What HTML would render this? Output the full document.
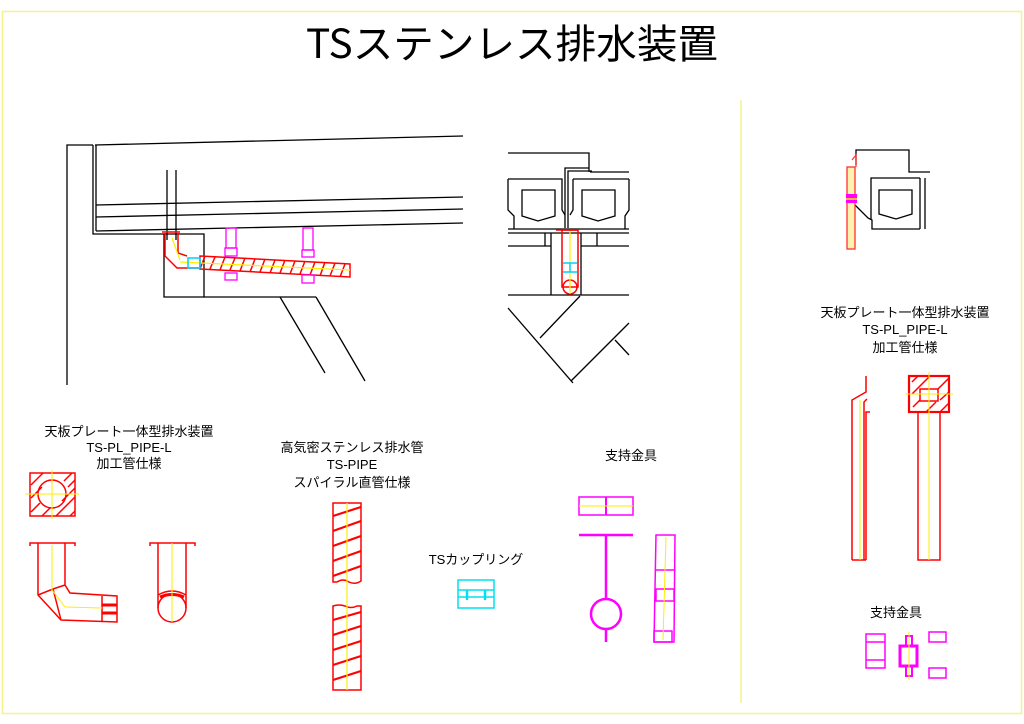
<!DOCTYPE html>
<html><head><meta charset="utf-8"><style>
html,body{margin:0;padding:0;background:#fff;width:1024px;height:724px;overflow:hidden}
svg{display:block}
text{font-family:"Liberation Sans","Noto Sans CJK JP",sans-serif;fill:#000}
</style></head><body>
<svg width="1024" height="724" viewBox="0 0 1024 724" xmlns="http://www.w3.org/2000/svg">
<rect x="2.5" y="11.5" width="1019" height="702" fill="none" stroke="#f4f48a" stroke-width="1.5"/>
<line x1="741" y1="100" x2="741" y2="703" stroke="#f4f48a" stroke-width="1.5"/>

<text x="512" y="58" font-size="40" text-anchor="middle" textLength="412" lengthAdjust="spacingAndGlyphs" style="font-family:'Noto Sans CJK JP',sans-serif;font-weight:400">TSステンレス排水装置</text>

<g stroke="#000" stroke-width="1.3" fill="none">
<polyline points="67,385 67,145 93,145"/>
<line x1="95" y1="145" x2="463" y2="136"/>
<polyline points="93,145 93,234 164,234"/>
<line x1="96" y1="145" x2="96" y2="231"/>
<line x1="96" y1="205" x2="463" y2="197"/>
<line x1="96" y1="217" x2="463" y2="209"/>
<line x1="96" y1="231" x2="463" y2="223"/>
<polyline points="164,234 204,234 204,297 164,297 164,234"/>
<line x1="204" y1="297" x2="316" y2="297"/>
<line x1="280" y1="297" x2="325" y2="373"/>
<line x1="316" y1="297" x2="365" y2="381"/>
<line x1="167" y1="170" x2="167" y2="240"/>
<line x1="176" y1="170" x2="176" y2="240"/>
</g>
<g stroke="#ff0000" stroke-width="1.5" fill="none">
<polyline points="162,232 180,232"/>
<polyline points="165,233 165,256 177,268 199,268"/>
<polyline points="178,233 178,253 187,256"/>
<polygon points="200,256 350,264 350,277 200,269"/>
<path d="M205,256 L200,269 M215,257 L210,269 M225,257 L220,270 M235,258 L230,270 M245,258 L240,271 M255,259 L250,272 M265,259 L260,272 M275,260 L270,273 M285,260 L280,273 M295,261 L290,274 M305,261 L300,274 M315,262 L310,275 M325,262 L320,276 M335,263 L330,276 M345,264 L340,277"/>
</g>
<line x1="172" y1="238" x2="180" y2="260" stroke="#ffee00" stroke-width="1.2"/>
<line x1="180" y1="262" x2="350" y2="270" stroke="#ffee00" stroke-width="1.2"/>
<rect x="188" y="258" width="12" height="10" fill="none" stroke="#00d0ff" stroke-width="1.5"/>
<g stroke="#ff00ff" stroke-width="1.3" fill="none">
<rect x="226" y="228" width="10" height="20"/><rect x="225" y="248" width="12" height="8"/><rect x="225" y="273" width="12" height="7"/>
<rect x="303" y="228" width="10" height="22"/><rect x="302" y="250" width="12" height="7"/><rect x="302" y="275" width="12" height="8"/>
</g>

<g stroke="#000" stroke-width="1.3" fill="none">
<polyline points="508,153 589,153 589,172"/>
<line x1="590" y1="172" x2="629" y2="172"/>
<polyline points="565,228 565,168 589,168"/>
<polyline points="568,228 568,171 592,171"/>
<path d="M508,179 L562,179 L562,210 L565,215 M508,179 L508,210 L514,216 L514,229"/>
<path d="M573,179 L629,179 M573,179 L573,210 L570,215 M629,179 L629,210 L625,216 L625,229"/>
<line x1="508" y1="229" x2="629" y2="229"/>
<polygon points="522,190 555,190 555,216 538,221 522,216"/>
<polygon points="582,190 615,190 615,216 598,221 582,216"/>
<line x1="508" y1="233" x2="629" y2="233"/>
<line x1="508" y1="246" x2="551" y2="246"/><line x1="581" y1="246" x2="629" y2="246"/>
<line x1="545" y1="233" x2="545" y2="246"/><line x1="597" y1="233" x2="597" y2="246"/>
<line x1="551" y1="233" x2="551" y2="295"/><line x1="581" y1="233" x2="581" y2="295"/>
<line x1="508" y1="295" x2="629" y2="295"/>
<line x1="508" y1="308" x2="573" y2="383"/>
<line x1="580" y1="296" x2="540" y2="338"/>
<line x1="629" y1="323" x2="571" y2="381"/>
<line x1="615" y1="340" x2="629" y2="355"/>
</g>
<g stroke="#ff0000" stroke-width="1.5" fill="none">
<line x1="556" y1="230" x2="578" y2="230"/>
<rect x="562" y="230" width="16" height="57"/>
<circle cx="570" cy="287" r="7"/>
</g>
<line x1="570" y1="231" x2="570" y2="294" stroke="#ffee00" stroke-width="1.2"/>
<path d="M563,263 H577 M563,272 H577 M570,263 V272" stroke="#00d0ff" stroke-width="1.5" fill="none"/>

<g stroke="#000" stroke-width="1.3" fill="none">
<polyline points="856,165 856,150 909,150 909,172 930,172"/>
<polyline points="855,205 868,218 872,220 872,229 920,229"/>
<polyline points="871,220 871,178 920,178"/>
<line x1="920" y1="178" x2="920" y2="229"/>
<polygon points="879,190 912,190 912,214 896,219 879,214"/>
<line x1="925" y1="178" x2="925" y2="229"/>
</g>
<rect x="847" y="167" width="8" height="82" fill="#fff2b0" stroke="#ff3030" stroke-width="1.3"/>
<polyline points="852,160 856,155 856,167" stroke="#ff3030" fill="none" stroke-width="1.2"/>
<rect x="846" y="194" width="11" height="9" fill="#ff00ff"/>
<line x1="846" y1="199" x2="857" y2="199" stroke="#ffee00" stroke-width="1.5"/>

<g stroke="#ff0000" stroke-width="1.5" fill="none">
<polyline points="852,560 852,400 866,392 866,376"/>
<polyline points="866,560 866,412 870,412"/>
<polyline points="864,560 864,402 867,399"/>
<line x1="852" y1="560" x2="866" y2="560"/>
<rect x="909" y="376" width="40" height="36" stroke-width="2.2"/>
<rect x="920" y="389" width="18" height="12"/>
<path d="M912,382 L918,376 M912,394 L930,376 M913,407 L920,400 M926,412 L936,402 M940,412 L949,403 M938,389 L949,378 M940,400 L949,392"/>
<rect x="918" y="412" width="22" height="148"/>
</g>
<line x1="860" y1="560" x2="860" y2="400" stroke="#ffee00" stroke-width="1"/>
<line x1="929" y1="372" x2="929" y2="560" stroke="#ffee00" stroke-width="1"/>
<line x1="905" y1="394" x2="953" y2="394" stroke="#ffee00" stroke-width="1"/>

<g stroke="#ff00ff" stroke-width="1.5" fill="none">
<rect x="866" y="634" width="19" height="34"/>
<line x1="866" y1="642" x2="885" y2="642"/><line x1="866" y1="660" x2="885" y2="660"/>
<rect x="900" y="646" width="17" height="20" stroke-width="3"/>
<rect x="906" y="636" width="6" height="10" stroke-width="2"/>
<rect x="906" y="666" width="6" height="10" stroke-width="2"/>
<rect x="929" y="632" width="17" height="10"/>
<rect x="929" y="668" width="17" height="10"/>
</g>
<line x1="909" y1="632" x2="909" y2="680" stroke="#ffee00" stroke-width="1"/>

<g stroke="#ff0000" stroke-width="1.5" fill="none">
<rect x="30" y="473" width="45" height="43"/>
<circle cx="52" cy="494" r="14"/>
<path d="M31,485 L43,473 M31,498 L42,487 M31,512 L40,503 M42,516 L50,508 M56,516 L75,497 M64,481 L72,473 M68,487 L75,480 M62,501 L75,488 M70,516 L75,511"/>
<path d="M30,546 V543 H75 V546"/>
<polyline points="38,543 38,595 61,620 117,622 117,596 70,593 65,585 65,543"/>
<polyline points="38,595 53,589 65,585"/>
<line x1="53" y1="589" x2="61" y2="620"/>
<line x1="102" y1="596" x2="102" y2="621"/>
<line x1="102" y1="605" x2="117" y2="605" stroke-width="3"/>
<line x1="102" y1="613" x2="117" y2="613" stroke-width="3"/>
<path d="M150,546 V543 H195 V546"/>
<path d="M158,543 V608 M186,543 V608"/>
<circle cx="172" cy="608" r="14"/>
<path d="M158,595 Q172,587 186,595"/>
<path d="M160,597 Q172,592 184,597" stroke-width="3"/>
</g>
<g stroke="#ffee00" stroke-width="1" fill="none">
<line x1="52" y1="470" x2="52" y2="519"/><line x1="25" y1="494" x2="79" y2="494"/>
<polyline points="52,545 52,590 65,607 102,608"/>
<line x1="172" y1="543" x2="172" y2="622"/>
</g>

<g stroke="#ff0000" stroke-width="1.5" fill="none">
<path d="M333,503 H361 V581 Q355,585 349,582 Q343,578 337,582 L333,582 Z"/>
<path d="M333,690 V606 Q339,604 345,606 Q351,609 357,606 L361,606 V690 Z"/>
<path d="M333,516 L361,507 M333,531 L361,521 M333,546 L361,536 M333,561 L361,551 M333,576 L361,566 M333,620 L361,612 M333,635 L361,626 M333,650 L361,641 M333,665 L361,656 M333,680 L361,671" stroke-width="2.2"/>
</g>
<line x1="347" y1="503" x2="347" y2="690" stroke="#ffee00" stroke-width="1.2"/>

<g stroke="#00e0f0" stroke-width="1.5" fill="none">
<rect x="458" y="580" width="36" height="28"/>
<line x1="458" y1="590" x2="494" y2="590"/><line x1="458" y1="597" x2="494" y2="597"/>
<line x1="467" y1="590" x2="467" y2="600" stroke-width="2.5"/><line x1="485" y1="590" x2="485" y2="600" stroke-width="2.5"/>
</g>

<g stroke="#ff00ff" stroke-width="1.5" fill="none">
<rect x="579" y="497" width="54" height="18"/>
<line x1="606" y1="497" x2="606" y2="515" stroke-width="2"/>
<line x1="579" y1="535" x2="633" y2="535" stroke-width="2.5"/>
<line x1="606" y1="535" x2="606" y2="599" stroke-width="2.5"/>
<circle cx="606" cy="614" r="15" stroke-width="2.5"/>
<line x1="606" y1="629" x2="606" y2="642" stroke-width="2.5"/>
<polygon points="656,535 675,535 674,642 654,642"/>
<line x1="656" y1="570" x2="675" y2="570"/>
<rect x="656" y="589" width="18" height="12"/>
<rect x="654" y="631" width="18" height="11"/>
</g>
<line x1="579" y1="506" x2="633" y2="506" stroke="#ffee00" stroke-width="1"/>
<line x1="666" y1="537" x2="663" y2="640" stroke="#ffee00" stroke-width="1"/>

<g font-size="13" text-anchor="middle">
<text x="129" y="436">天板プレート一体型排水装置</text>
<text x="129" y="452">TS-PL_PIPE-L</text>
<text x="129" y="468">加工管仕様</text>
<text x="352" y="452">高気密ステンレス排水管</text>
<text x="352" y="469">TS-PIPE</text>
<text x="352" y="487">スパイラル直管仕様</text>
<text x="631" y="460">支持金具</text>
<text x="476" y="564">TSカップリング</text>
<text x="905" y="317">天板プレート一体型排水装置</text>
<text x="905" y="334">TS-PL_PIPE-L</text>
<text x="905" y="352">加工管仕様</text>
<text x="896" y="617">支持金具</text>
</g>
</svg>
</body></html>
